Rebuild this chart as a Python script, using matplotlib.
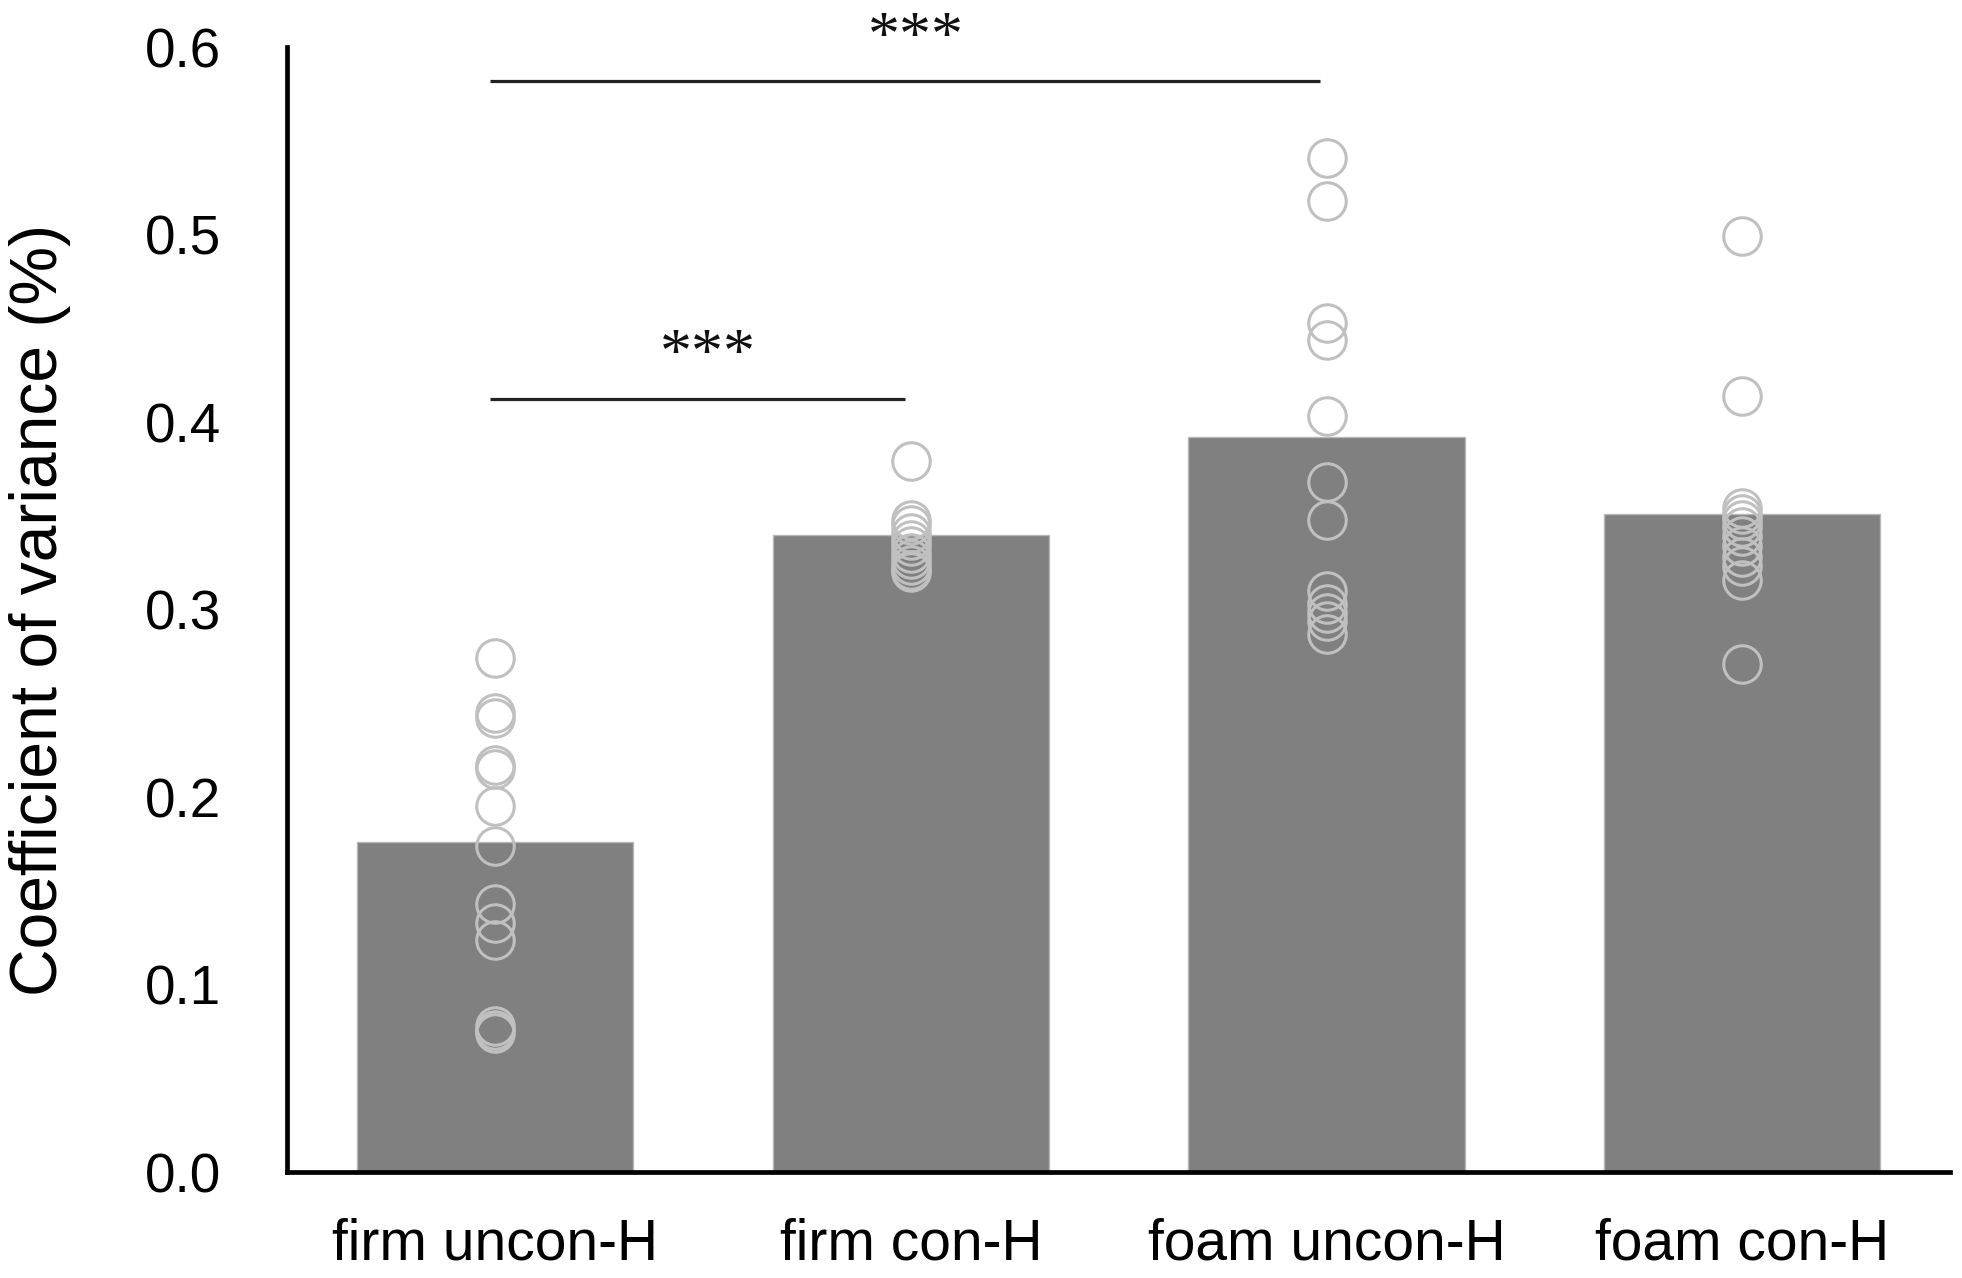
import matplotlib
matplotlib.use("Agg")
import matplotlib.pyplot as plt
import numpy as np

# categories and bar heights
groups = ["firm uncon-H", "firm con-H", "foam uncon-H", "foam con-H"]
bar_means = [0.176, 0.340, 0.392, 0.351]

# individual subject values
firm_uncon = [0.274, 0.245, 0.242, 0.217, 0.215, 0.195, 0.174, 0.143, 0.133, 0.124, 0.078, 0.076, 0.074]
firm_con = [0.379, 0.348, 0.345, 0.341, 0.337, 0.334, 0.330, 0.327, 0.324, 0.321, 0.320]
foam_uncon = [0.541, 0.518, 0.453, 0.444, 0.403, 0.368, 0.348, 0.310, 0.303, 0.298, 0.294, 0.287]
foam_con = [0.499, 0.414, 0.354, 0.351, 0.348, 0.344, 0.339, 0.334, 0.328, 0.323, 0.316, 0.271]
points = [firm_uncon, firm_con, foam_uncon, foam_con]

# significance brackets: (from group, to group, height, label)
sig_pairs = [(0, 1), (0, 2)]
sig_heights = [0.4125, 0.582]
sig_labels = ["***", "***"]

yticks = [0.0, 0.1, 0.2, 0.3, 0.4, 0.5, 0.6]

plt.rcParams['font.family'] = ['Liberation Sans', 'DejaVu Sans']

fig = plt.figure(figsize=(19.62, 12.78), dpi=100)
ax = fig.add_axes([0.14653, 0.08294, 0.84735, 0.88028])

x = np.arange(len(groups))
ax.bar(x, bar_means, width=0.665, color='#808080', edgecolor='#b8b8b8', linewidth=1.0, zorder=2)

for i, vals in enumerate(points):
    ax.plot([x[i]] * len(vals), vals, linestyle='none', marker='o', markersize=27,
            markerfacecolor='none', markeredgecolor='#c0c0c0', markeredgewidth=2.2, zorder=3)

# brackets
for (a, b), h, lab in zip(sig_pairs, sig_heights, sig_labels):
    ax.plot([x[a] - 0.012, x[b] - 0.015], [h, h], color='#222222', linewidth=2.3,
            solid_capstyle='butt', zorder=4)
    ax.text((x[a] + x[b]) / 2 + 0.012, h + 0.014, lab, ha='center', va='baseline',
            fontsize=46, family=['Liberation Serif', 'DejaVu Serif'], color='#111111')

ax.set_xlim(-0.5, 3.5)
ax.set_ylim(0, 0.6)
ax.set_xticks(x)
ax.set_xticklabels(groups, fontsize=41)
ax.set_yticks(yticks)
ax.set_yticklabels(["%.1f" % t for t in yticks], fontsize=39.5)
ax.tick_params(axis='both', length=0)
ax.tick_params(axis='y', pad=48)
ax.tick_params(axis='x', pad=33)

ax.set_ylabel("Coefficient of variance (%)", fontsize=47.5)
ax.yaxis.set_label_coords(-0.130, 0.5)

for side in ['top', 'right']:
    ax.spines[side].set_visible(False)
for side in ['left', 'bottom']:
    ax.spines[side].set_linewidth(3.4)
    ax.spines[side].set_color('black')

fig.savefig("out.png", dpi=100)
